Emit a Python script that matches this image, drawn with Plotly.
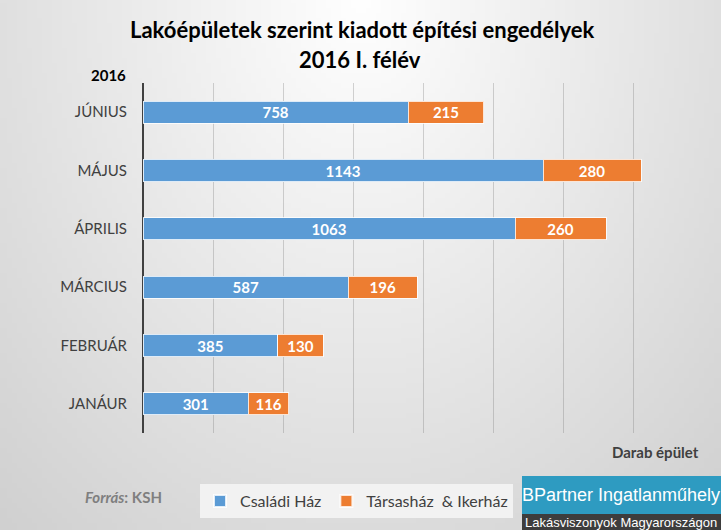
import base64, struct, zlib, math
import plotly.graph_objects as go

# ---- data ----
months = ["JANÁUR", "FEBRUÁR", "MÁRCIUS", "ÁPRILIS", "MÁJUS", "JÚNIUS"]
csaladi = [301, 385, 587, 1063, 1143, 758]
tarsas = [116, 130, 196, 260, 280, 215]
series_names = ["Családi Ház", "Társasház  & Ikerház"]
title_lines = ["Lakóépületek szerint kiadott építési engedélyek", "2016 I. félév"]

W, H = 721, 530
L, R, T, B = 143, 18, 83, 97
PW, PH = W - L - R, H - T - B


def px(x):
    return (x - L) / PW


def py(y):
    return 1 - (y - T) / PH


# ---- radial gradient background (PNG data URI) ----
def make_png(w, h):
    raw = b""
    for j in range(h):
        row = bytearray([0])
        for i in range(w):
            X = i / (w - 1) * W
            Y = j / (h - 1) * H
            d = math.sqrt((31 * (X - 360) / 360) ** 2 + (35 * Y / 530) ** 2)
            v = int(max(200, min(255, 255 - d)))
            row.append(v)
        raw += bytes(row)

    def chunk(t, data):
        c = struct.pack(">I", len(data)) + t + data
        return c + struct.pack(">I", zlib.crc32(t + data) & 0xffffffff)

    png = b"\x89PNG\r\n\x1a\n"
    png += chunk(b"IHDR", struct.pack(">IIBBBBB", w, h, 8, 0, 0, 0, 0))
    png += chunk(b"IDAT", zlib.compress(raw, 9))
    png += chunk(b"IEND", b"")
    return "data:image/png;base64," + base64.b64encode(png).decode()


bg = make_png(145, 106)

FONT = "Lato"
legend_names = [n.replace("  ", "\u00a0 ") for n in series_names]

fig = go.Figure()
fig.add_trace(go.Bar(
    y=months, x=csaladi, orientation="h", name=legend_names[0],
    marker=dict(color="#5B9BD5", line=dict(color="rgba(255,255,255,0.8)", width=1)),
    text=csaladi, textposition="inside", insidetextanchor="middle", constraintext="none",
    textfont=dict(color="white", size=15, family=FONT, weight="bold"),
))
fig.add_trace(go.Bar(
    y=months, x=tarsas, orientation="h", name=legend_names[1],
    marker=dict(color="#ED7D31", line=dict(color="rgba(255,255,255,0.8)", width=1)),
    text=tarsas, textposition="inside", insidetextanchor="middle", constraintext="none",
    textfont=dict(color="white", size=15, family=FONT, weight="bold"),
))

ann = []
ann.append(dict(text="<b>" + title_lines[0] + "</b>", x=px(362), y=py(30), xref="paper", yref="paper",
                showarrow=False, font=dict(size=22, color="#000000", family=FONT), xanchor="center", yanchor="middle"))
ann.append(dict(text="<b>" + title_lines[1] + "</b>", x=px(360), y=py(59), xref="paper", yref="paper",
                showarrow=False, font=dict(size=22, color="#000000", family=FONT), xanchor="center", yanchor="middle"))
ann.append(dict(text="<b>2016</b>", x=px(128), y=py(75), xref="paper", yref="paper",
                showarrow=False, font=dict(size=15, color="#000000", family=FONT), xanchor="right", yanchor="middle"))
ann.append(dict(text="<b>Darab épület</b>", x=px(701), y=py(452), xref="paper", yref="paper",
                showarrow=False, font=dict(size=15, color="#404040", family=FONT), xanchor="right", yanchor="middle"))
ann.append(dict(text="<b><i>Forrás</i>: KSH</b>", x=px(164), y=py(497), xref="paper", yref="paper",
                showarrow=False, font=dict(size=15, color="#7f7f7f", family=FONT), xanchor="right", yanchor="middle"))
ann.append(dict(text="BPartner Ingatlanműhely", x=px(621), y=py(495), xref="paper", yref="paper",
                showarrow=False, font=dict(size=18, color="white", family="Liberation Sans"),
                xanchor="center", yanchor="middle"))
ann.append(dict(text="Lakásviszonyok Magyarországon", x=px(621), y=py(522), xref="paper", yref="paper",
                showarrow=False, font=dict(size=13, color="white", family="Liberation Sans"),
                xanchor="center", yanchor="middle"))

shapes = [
    dict(type="rect", xref="paper", yref="paper", x0=px(522), x1=px(721), y0=py(476), y1=py(514),
         fillcolor="#2E9BC1", line=dict(width=0), layer="above"),
    dict(type="rect", xref="paper", yref="paper", x0=px(522), x1=px(721), y0=py(514), y1=py(530),
         fillcolor="#3d3d3d", line=dict(width=0), layer="above"),
]

fig.update_layout(
    width=W, height=H,
    margin=dict(l=L, r=R, t=T, b=B, autoexpand=False),
    barmode="stack", bargap=0.62,
    paper_bgcolor="#dcdcdc", plot_bgcolor="rgba(0,0,0,0)",
    font=dict(family=FONT, color="#404040"),
    showlegend=True,
    legend=dict(orientation="h", x=px(200), y=py(484), xanchor="left", yanchor="top",
                bgcolor="rgba(246,246,246,0.85)", font=dict(size=16, color="#404040", family=FONT),
                itemsizing="constant", traceorder="normal", itemwidth=30,
                tracegroupgap=0),
    annotations=ann,
    shapes=shapes,
    images=[dict(source=bg, xref="paper", yref="paper", x=-L / PW, y=1 + T / PH,
                 sizex=W / PW, sizey=H / PH, sizing="stretch", layer="below",
                 xanchor="left", yanchor="top")],
    xaxis=dict(range=[0, 1600], dtick=200, showticklabels=False, showgrid=True,
               gridcolor="rgba(120,120,120,0.32)", gridwidth=1,
               zeroline=True, zerolinecolor="#404040", zerolinewidth=2, fixedrange=True),
    yaxis=dict(categoryorder="array", categoryarray=months, showgrid=False,
               tickfont=dict(size=15, color="#404040", family=FONT), ticklabelstandoff=15,
               fixedrange=True),
)

fig.write_html("out.html", config={"displayModeBar": False},
               post_script="document.body.style.margin='0';document.body.style.overflow='hidden';")
